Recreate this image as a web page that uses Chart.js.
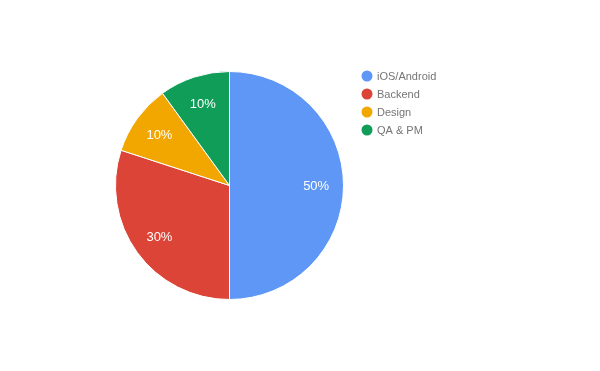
<!DOCTYPE html>
<html>
<head>
<meta charset="utf-8">
<script src="https://cdn.jsdelivr.net/npm/chart.js@4"></script>
<style>
  html, body { margin: 0; padding: 0; background: #fff; }
  #wrap { width: 600px; height: 371px; position: relative; }
</style>
</head>
<body>
<div id="wrap"><canvas id="pieChart"></canvas></div>
<script>
const categories = ["iOS/Android", "Backend", "Design", "QA & PM"];
const shares = [50, 30, 10, 10];
const colors = ["#5e97f6", "#db4437", "#f2a600", "#0f9d58"];

// slice labels + legend, drawn google-charts style
const extras = {
  id: "extras",
  afterDraw(chart) {
    const ctx = chart.ctx;
    const arcs = chart.getDatasetMeta(0).data;
    const total = shares.reduce((a, b) => a + b, 0);
    ctx.save();
    ctx.font = "13px 'Liberation Sans', Arial, sans-serif";
    ctx.fillStyle = "#ffffff";
    ctx.textAlign = "center";
    ctx.textBaseline = "middle";
    arcs.forEach((arc, i) => {
      const mid = (arc.startAngle + arc.endAngle) / 2;
      const r = arc.outerRadius * 0.76;
      const pct = Math.round(shares[i] / total * 100) + "%";
      ctx.fillText(pct, arc.x + Math.cos(mid) * r, arc.y + Math.sin(mid) * r + 1);
    });

    // legend
    ctx.font = "11px 'Liberation Sans', Arial, sans-serif";
    ctx.textAlign = "left";
    categories.forEach((name, i) => {
      const y = 76 + i * 18;
      ctx.beginPath();
      ctx.fillStyle = colors[i];
      ctx.arc(367, y, 5.5, 0, Math.PI * 2);
      ctx.fill();
      ctx.fillStyle = "#757575";
      ctx.fillText(name, 377, y + 1);
    });
    ctx.restore();
  }
};

new Chart(document.getElementById("pieChart"), {
  type: "pie",
  data: {
    labels: categories,
    datasets: [{
      data: shares,
      backgroundColor: colors,
      borderColor: "#ffffff",
      borderWidth: 1
    }]
  },
  options: {
    responsive: true,
    maintainAspectRatio: false,
    animation: false,
    layout: { padding: { left: 115, top: 71, right: 256, bottom: 71 } },
    plugins: {
      legend: { display: false },
      tooltip: { enabled: false }
    }
  },
  plugins: [extras]
});
</script>
</body>
</html>
